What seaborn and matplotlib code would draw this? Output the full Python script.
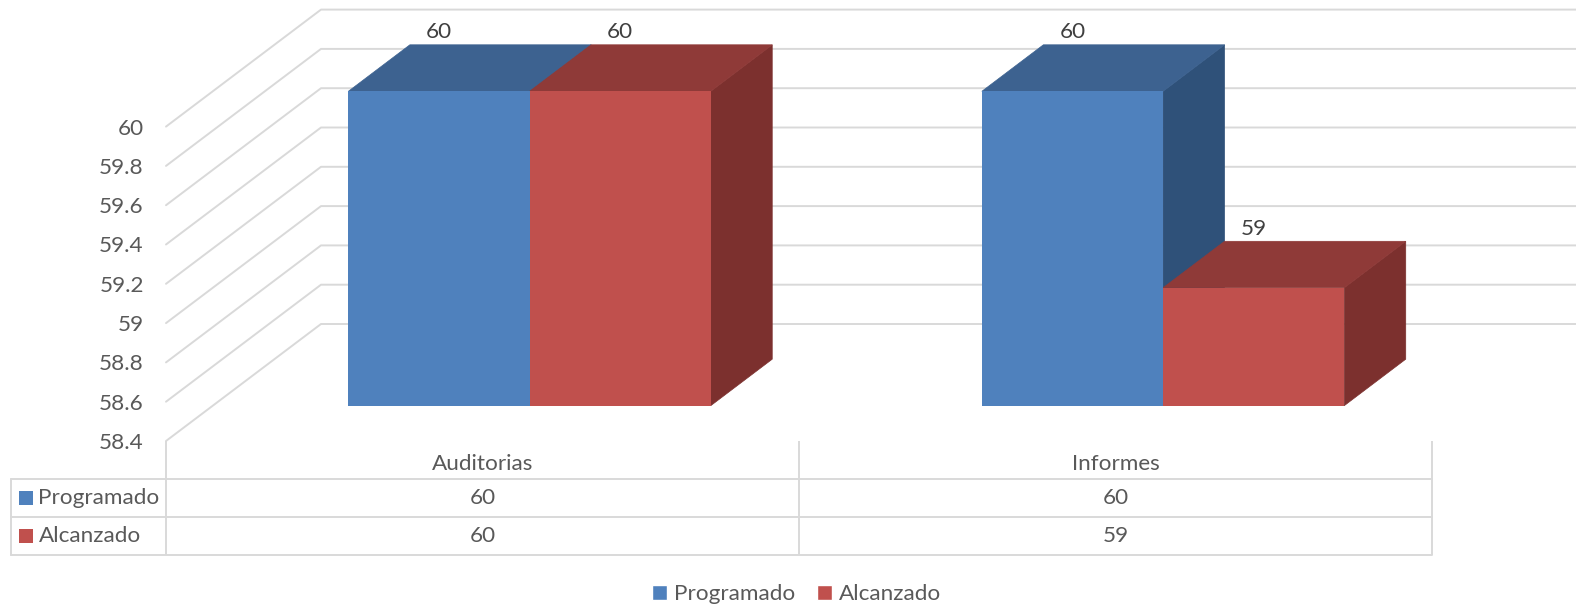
import pandas as pd
import seaborn as sns
import matplotlib.pyplot as plt
from matplotlib.lines import Line2D
from matplotlib.patches import Patch, Polygon, Rectangle
from matplotlib.transforms import IdentityTransform

categories = ["Auditorias", "Informes"]
series_names = ["Programado", "Alcanzado"]
programado = [60, 60]
alcanzado = [60, 59]
y_ticks = [58.4, 58.6, 58.8, 59, 59.2, 59.4, 59.6, 59.8, 60]
y_labels = ["58.4", "58.6", "58.8", "59", "59.2", "59.4", "59.6", "59.8", "60"]

W, H = 1576, 607
FRONT = "#4F81BD", "#C0504D"
TOP = "#3D6290", "#8F3A38"
SIDE = "#2F5179", "#7C302E"
GRID = "#D9D9D9"
TEXT = "#595959"
DEPTH = (61.5, 46.5)
FONT = 16.2


def px_box(left, top, right, bottom):
    return [left / W, 1 - bottom / H, (right - left) / W, (bottom - top) / H]


sns.set_theme(style="white")
plt.rcParams["font.family"] = ["Lato", "DejaVu Sans"]

df = pd.DataFrame({
    "category": categories * 2,
    "series": [series_names[0]] * 2 + [series_names[1]] * 2,
    "value": programado + alcanzado,
})

fig = plt.figure(figsize=(W / 100, H / 100), dpi=100)

# front plane of the box: holds the value axis and category names
ax_front = fig.add_axes(px_box(166, 126.6, 1432, 441))
ax_front.set_xlim(-0.5, 1.5)
ax_front.set_ylim(58.4, 60)
ax_front.set_yticks(y_ticks, y_labels)
ax_front.set_xticks(range(len(categories)), categories)
ax_front.tick_params(axis="y", length=0, pad=16, labelsize=FONT, labelcolor=TEXT)
ax_front.tick_params(axis="x", length=0, pad=9.5, labelsize=FONT, labelcolor=TEXT)
ax_front.patch.set_alpha(0)
sns.despine(ax=ax_front, left=True, bottom=True)

# gridlines run up the side wall, then along the back wall
for v in y_ticks:
    x0, y0 = ax_front.transData.transform((-0.5, v))
    ax_front.add_line(Line2D([x0, x0 + 155, W], [y0, y0 + 117, y0 + 117],
                             transform=IdentityTransform(), color=GRID, lw=1.4,
                             clip_on=False, zorder=1))

# plane of the bars, shifted into the box
ax = fig.add_axes(px_box(212.8, 91.3, 1479.8, 405.7))
ax.patch.set_alpha(0)
sns.barplot(data=df, x="category", y="value", hue="series", hue_order=series_names,
            palette=list(FRONT), saturation=1, width=0.572, gap=0, dodge=True,
            legend=False, ax=ax, zorder=5, linewidth=0)
ax.set_xlim(-0.5, 1.5)
ax.set_ylim(58.4, 60)
ax.axis("off")

# depth faces, from where each bar really ends up on screen
bars = list(ax.patches)
for i, bar in enumerate(bars):
    s = i // len(categories)
    x0, x1 = bar.get_x(), bar.get_x() + bar.get_width()
    val = bar.get_height()
    (l, b), (r, t) = ax.transData.transform([(x0, 58.4), (x1, val)])
    dx, dy = DEPTH
    ax.add_patch(Polygon([(r, b), (r + dx, b + dy), (r + dx, t + dy), (r, t)],
                         transform=IdentityTransform(), fc=SIDE[s], ec=SIDE[s], lw=0.5,
                         clip_on=False, zorder=2 + s))
    ax.add_patch(Polygon([(l, t), (l + dx, t + dy), (r + dx, t + dy), (r, t)],
                         transform=IdentityTransform(), fc=TOP[s], ec=TOP[s], lw=0.5,
                         clip_on=False, zorder=2.5 + s))
    ax.annotate(f"{val:g}", xy=((x0 + x1) / 2, val), xytext=(0, 59),
                textcoords="offset pixels", ha="center", va="center",
                fontsize=FONT, color="#404040", annotation_clip=False, zorder=9)

# data table under the chart, drawn in figure pixels
ov = fig.add_axes([0, 0, 1, 1], zorder=-1)
ov.set_xlim(0, W)
ov.set_ylim(H, 0)
ov.axis("off")
table_x = [166, 799, 1432]
rows_y = [478.5, 516.5, 554.5]
for x in table_x:
    ov.plot([x, x], [441, rows_y[-1]], color=GRID, lw=1.4, solid_capstyle="butt")
ov.plot([11, 11], [rows_y[0], rows_y[-1]], color=GRID, lw=1.4)
for y in rows_y:
    ov.plot([11, table_x[-1]], [y, y], color=GRID, lw=1.4)

for r, (name, values) in enumerate(zip(series_names, [programado, alcanzado])):
    yc = (rows_y[r] + rows_y[r + 1]) / 2
    ov.add_patch(Rectangle((19, yc - 7), 14, 14, fc=FRONT[r], ec="none"))
    ov.text(38.5, yc, name, fontsize=FONT, color=TEXT, va="center", ha="left")
    for c, val in enumerate(values):
        ov.text((table_x[c] + table_x[c + 1]) / 2, yc, f"{val:g}", fontsize=FONT,
                color=TEXT, va="center", ha="center")

handles = [Patch(fc=FRONT[0], label=series_names[0]), Patch(fc=FRONT[1], label=series_names[1])]
fig.legend(handles=handles, ncol=2, frameon=False, loc="center",
           bbox_to_anchor=(796.5 / W, 1 - 594 / H), fontsize=FONT, labelcolor=TEXT,
           handlelength=0.65, handleheight=0.65, handletextpad=0.3, columnspacing=1.0)

fig.savefig("out.png", dpi=100)
plt.close(fig)
